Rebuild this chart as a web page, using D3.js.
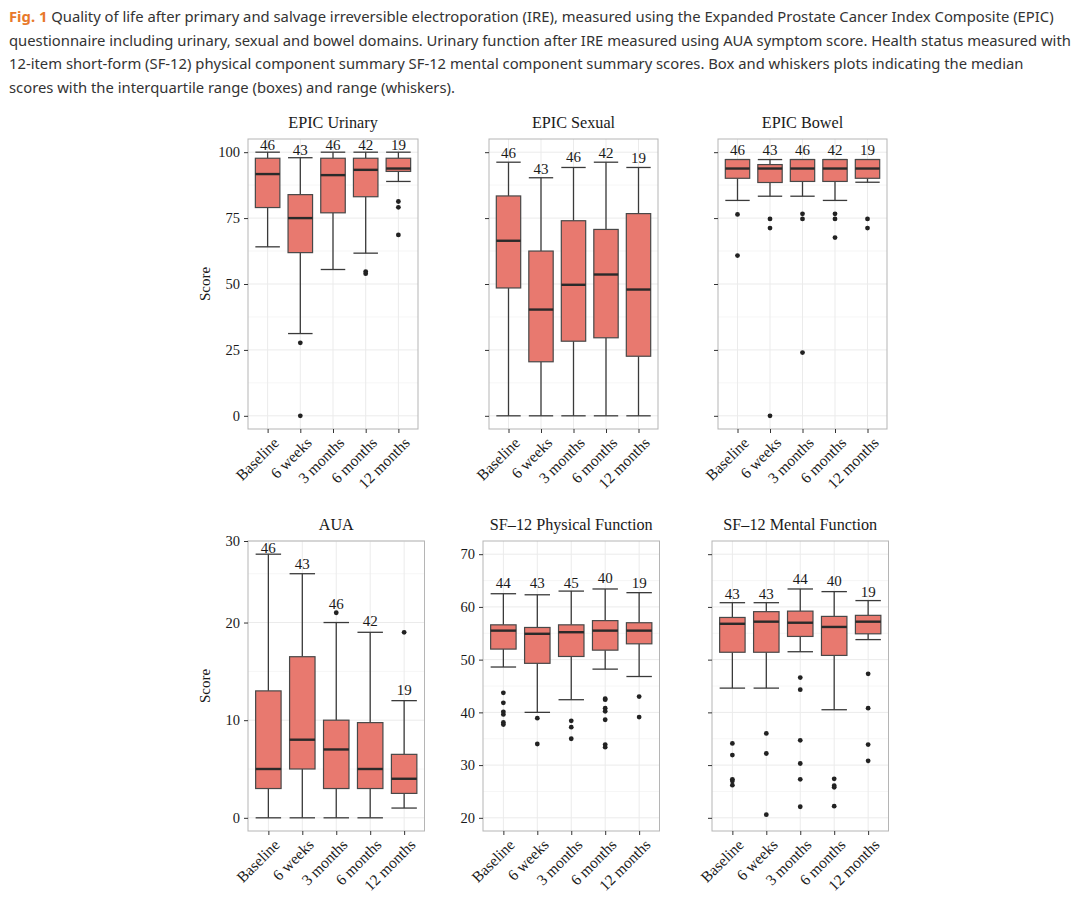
<!DOCTYPE html>
<html>
<head>
<meta charset="utf-8">
<script src="https://cdn.jsdelivr.net/npm/d3@7"></script>
<style>
  body { margin: 0; background: #fff; }
  svg text { font-family: "Liberation Serif", "DejaVu Serif", serif; fill: #1a1a1a; }
  svg text.cap { font-family: "Noto Sans", "Open Sans", sans-serif; fill: #333; }
</style>
</head>
<body>
<div id="chart"></div>
<script>
// time points (x categories)
const timepoints = ["Baseline", "6 weeks", "3 months", "6 months", "12 months"];

// box stats per time point: [low whisker, q1, median, q3, high whisker]
const urinaryStats = [[64.1, 79.0, 91.7, 97.7, 100], [31.2, 61.9, 75.0, 83.9, 97.9], [55.5, 77.0, 91.3, 97.7, 100], [61.7, 83.1, 93.3, 97.7, 100], [88.9, 92.7, 93.8, 97.7, 100]];
const urinaryOutliers = [[], [27.7, 0], [], [54.7, 53.9], [81.3, 79.1, 68.6]];
const urinaryN = [46, 43, 46, 42, 19];
const urinaryLabelAt = [102.8, 101.1, 102.8, 102.8, 102.8];

const sexualStats = [[0, 48.5, 66.4, 83.4, 96.2], [0, 20.5, 40.3, 62.5, 90.3], [0, 28.3, 49.7, 74.0, 94.2], [0, 29.6, 53.6, 70.7, 96.2], [0, 22.6, 47.9, 76.7, 94.2]];
const sexualOutliers = [[], [], [], [], []];
const sexualN = [46, 43, 46, 42, 19];
const sexualLabelAt = [99.9, 93.6, 98.2, 99.6, 98.0];

const bowelStats = [[81.7, 90.1, 93.8, 97.2, 97.2], [83.3, 88.5, 93.8, 95.3, 97.2], [83.3, 88.9, 93.8, 97.2, 97.2], [81.7, 88.9, 93.8, 97.2, 97.2], [88.6, 90.1, 93.8, 97.2, 97.2]];
const bowelOutliers = [[76.4, 60.8], [74.7, 71.2, 0], [76.6, 74.7, 24.0], [76.6, 74.7, 67.6], [74.7, 71.2]];
const bowelN = [46, 43, 46, 42, 19];
const bowelLabelAt = [101.1, 101.1, 101.1, 101.1, 101.1];

const auaStats = [[0, 3, 5, 13, 27], [0, 5, 8, 16.5, 25], [0, 3, 7, 10, 20], [0, 3, 5, 9.75, 19], [1, 2.5, 4, 6.5, 12]];
const auaOutliers = [[], [], [21], [], [19]];
const auaN = [46, 43, 46, 42, 19];
const auaLabelAt = [27.7, 26.0, 21.95, 20.2, 13.1];

const physicalStats = [[48.6, 52.0, 55.5, 56.6, 62.5], [40.0, 49.3, 54.9, 56.1, 62.3], [42.4, 50.6, 55.2, 56.6, 63.0], [48.2, 51.8, 55.5, 57.4, 63.4], [46.8, 53.0, 55.5, 57.0, 62.7]];
const physicalOutliers = [[43.7, 41.8, 40.1, 39.6, 38.1, 37.7], [38.9, 34.0], [38.4, 37.2, 35.0], [42.6, 42.4, 40.8, 40.2, 38.6, 33.9, 33.4], [43.0, 39.1]];
const physicalN = [44, 43, 45, 40, 19];
const physicalLabelAt = [64.6, 64.6, 64.6, 65.45, 64.6];

const mentalStats = [[44.6, 51.4, 56.8, 58.0, 60.8], [44.6, 51.4, 57.2, 59.1, 60.8], [51.5, 54.4, 57.0, 59.2, 63.4], [40.5, 50.8, 56.2, 58.2, 62.9], [53.8, 54.9, 57.2, 58.4, 61.2]];
const mentalOutliers = [[34.1, 31.9, 27.3, 27.0, 26.2], [36.0, 32.2, 20.6], [46.6, 44.3, 34.7, 30.3, 27.3, 22.1], [27.4, 26.1, 25.8, 22.2], [47.3, 40.8, 33.9, 30.8]];
const mentalN = [43, 43, 44, 40, 19];
const mentalLabelAt = [62.5, 62.5, 65.25, 64.9, 62.9];

// y axis ticks
const epicTicks = [0, 25, 50, 75, 100];
const auaTicks = [0, 10, 20, 30];
const sfTicks = [20, 30, 40, 50, 60, 70];

const captionLines = [
  "Quality of life after primary and salvage irreversible electroporation (IRE), measured using the Expanded Prostate Cancer Index Composite (EPIC)",
  "questionnaire including urinary, sexual and bowel domains. Urinary function after IRE measured using AUA symptom score. Health status measured with",
  "12-item short-form (SF-12) physical component summary SF-12 mental component summary scores. Box and whiskers plots indicating the median",
  "scores with the interquartile range (boxes) and range (whiskers)."
];

const W = 1080, H = 907;
const svg = d3.select("#chart").append("svg")
  .attr("width", W).attr("height", H);

// caption
const cap = svg.append("g");
captionLines.forEach((line, i) => {
  const t = cap.append("text").attr("class", "cap")
    .attr("x", 9).attr("y", 22 + i * 23.6)
    .style("font-size", "14.8px");
  if (i === 0) {
    t.append("tspan").text("Fig. 1").style("fill", "#e8792b").style("font-weight", "bold");
    t.append("tspan").text(" " + line);
  } else {
    t.text(line);
  }
});

const panels = [
  {title: "EPIC Urinary", x0: 248, x1: 418, y0: 139, y1: 429, domain: [-5, 105], ticks: epicTicks, minor: [12.5, 37.5, 62.5, 87.5], labels: true,
   stats: urinaryStats, out: urinaryOutliers, n: urinaryN, lab: urinaryLabelAt},
  {title: "EPIC Sexual", x0: 489, x1: 658, y0: 139, y1: 429, domain: [-5, 105], ticks: epicTicks, minor: [12.5, 37.5, 62.5, 87.5], labels: false,
   stats: sexualStats, out: sexualOutliers, n: sexualN, lab: sexualLabelAt},
  {title: "EPIC Bowel", x0: 718, x1: 887, y0: 139, y1: 429, domain: [-5, 105], ticks: epicTicks, minor: [12.5, 37.5, 62.5, 87.5], labels: false,
   stats: bowelStats, out: bowelOutliers, n: bowelN, lab: bowelLabelAt},
  {title: "AUA", x0: 248, x1: 424.5, y0: 541, y1: 831, domain: [-1.35, 28.35], ticks: auaTicks, minor: [5, 15, 25], labels: true,
   stats: auaStats, out: auaOutliers, n: auaN, lab: auaLabelAt},
  {title: "SF\u201312 Physical Function", x0: 483, x1: 659.5, y0: 541, y1: 831, domain: [17.5, 72.5], ticks: sfTicks, minor: [25, 35, 45, 55, 65], labels: true,
   stats: physicalStats, out: physicalOutliers, n: physicalN, lab: physicalLabelAt},
  {title: "SF\u201312 Mental Function", x0: 712, x1: 888.5, y0: 541, y1: 831, domain: [17.5, 72.5], ticks: sfTicks, minor: [25, 35, 45, 55, 65], labels: false,
   stats: mentalStats, out: mentalOutliers, n: mentalN, lab: mentalLabelAt}
];

panels.forEach((p, pi) => {
  const g = svg.append("g");
  const x = d3.scalePoint().domain(timepoints).range([p.x0, p.x1]).padding(0.6);
  const y = d3.scaleLinear().domain(p.domain).range([p.y1, p.y0]).clamp(true);
  const bw = x.step() * 0.75;

  // grid
  g.selectAll(".minor").data(p.minor).join("line")
    .attr("x1", p.x0).attr("x2", p.x1)
    .attr("y1", d => y(d)).attr("y2", d => y(d))
    .attr("stroke", "#f4f4f4").attr("stroke-width", 0.8);
  g.selectAll(".major").data(p.ticks).join("line")
    .attr("x1", p.x0).attr("x2", p.x1)
    .attr("y1", d => y(d)).attr("y2", d => y(d))
    .attr("stroke", "#ebebeb").attr("stroke-width", 1);
  g.selectAll(".vgrid").data(timepoints).join("line")
    .attr("x1", d => x(d)).attr("x2", d => x(d))
    .attr("y1", p.y0).attr("y2", p.y1)
    .attr("stroke", "#ebebeb").attr("stroke-width", 1);

  // panel border
  g.append("rect")
    .attr("x", p.x0).attr("y", p.y0)
    .attr("width", p.x1 - p.x0).attr("height", p.y1 - p.y0)
    .attr("fill", "none").attr("stroke", "#b5b5b5").attr("stroke-width", 1);

  // y axis
  const yAxis = g.append("g")
    .attr("transform", "translate(" + p.x0 + ",0)")
    .call(d3.axisLeft(y).tickValues(p.ticks).tickSize(4).tickPadding(4)
      .tickFormat(p.labels ? d3.format("d") : () => ""));
  yAxis.select(".domain").remove();
  yAxis.selectAll(".tick line").attr("stroke", "#333");
  yAxis.selectAll(".tick text").style("font-size", "14.5px")
    .style("font-family", "Liberation Serif, serif").attr("fill", "#1a1a1a");

  // x axis
  const xAxis = g.append("g")
    .attr("transform", "translate(0," + p.y1 + ")")
    .call(d3.axisBottom(x).tickSize(4).tickPadding(4));
  xAxis.select(".domain").remove();
  xAxis.selectAll(".tick line").attr("stroke", "#333");
  xAxis.selectAll(".tick text")
    .style("font-size", "15.5px").style("font-family", "Liberation Serif, serif")
    .attr("fill", "#1a1a1a")
    .attr("text-anchor", "end")
    .attr("dy", "0.35em")
    .attr("transform", "translate(8,11) rotate(-45)")
    .attr("y", 0).attr("x", 0);

  // title
  g.append("text")
    .attr("x", (p.x0 + p.x1) / 2).attr("y", p.y0 - 11)
    .attr("text-anchor", "middle")
    .style("font-size", "16.2px")
    .text(p.title);

  if (pi === 0 || pi === 3) {
    g.append("text")
      .attr("transform", "translate(" + (p.x0 - 38) + "," + ((p.y0 + p.y1) / 2) + ") rotate(-90)")
      .attr("text-anchor", "middle")
      .style("font-size", "15px")
      .text("Score");
  }

  // boxes
  const boxes = g.selectAll(".box").data(timepoints).join("g");
  boxes.append("line") // whisker upper
    .attr("x1", d => x(d)).attr("x2", d => x(d))
    .attr("y1", (d, i) => y(p.stats[i][3])).attr("y2", (d, i) => y(p.stats[i][4]))
    .attr("stroke", "#3a3a3a").attr("stroke-width", 1.3);
  boxes.append("line") // whisker lower
    .attr("x1", d => x(d)).attr("x2", d => x(d))
    .attr("y1", (d, i) => y(p.stats[i][1])).attr("y2", (d, i) => y(p.stats[i][0]))
    .attr("stroke", "#3a3a3a").attr("stroke-width", 1.3);
  [0, 4].forEach(k => {
    boxes.append("line")
      .attr("x1", d => x(d) - bw / 2).attr("x2", d => x(d) + bw / 2)
      .attr("y1", (d, i) => y(p.stats[i][k])).attr("y2", (d, i) => y(p.stats[i][k]))
      .attr("stroke", "#3a3a3a").attr("stroke-width", 1.3);
  });
  boxes.append("rect")
    .attr("x", d => x(d) - bw / 2).attr("width", bw)
    .attr("y", (d, i) => y(p.stats[i][3]))
    .attr("height", (d, i) => y(p.stats[i][1]) - y(p.stats[i][3]))
    .attr("fill", "#e8796f").attr("stroke", "#484848").attr("stroke-width", 1.2);
  boxes.append("line") // median
    .attr("x1", d => x(d) - bw / 2).attr("x2", d => x(d) + bw / 2)
    .attr("y1", (d, i) => y(p.stats[i][2])).attr("y2", (d, i) => y(p.stats[i][2]))
    .attr("stroke", "#2a2a2a").attr("stroke-width", 2.4);

  // outliers
  boxes.each(function(d, i) {
    d3.select(this).selectAll("circle").data(p.out[i]).join("circle")
      .attr("cx", x(d)).attr("cy", v => y(v)).attr("r", 2.4)
      .attr("fill", "#222");
  });

  // n labels
  boxes.append("text")
    .attr("x", d => x(d)).attr("y", (d, i) => y(p.lab[i]))
    .attr("dy", "0.35em")
    .attr("text-anchor", "middle")
    .style("font-size", "15px")
    .text((d, i) => p.n[i]);
});
</script>
</body>
</html>
